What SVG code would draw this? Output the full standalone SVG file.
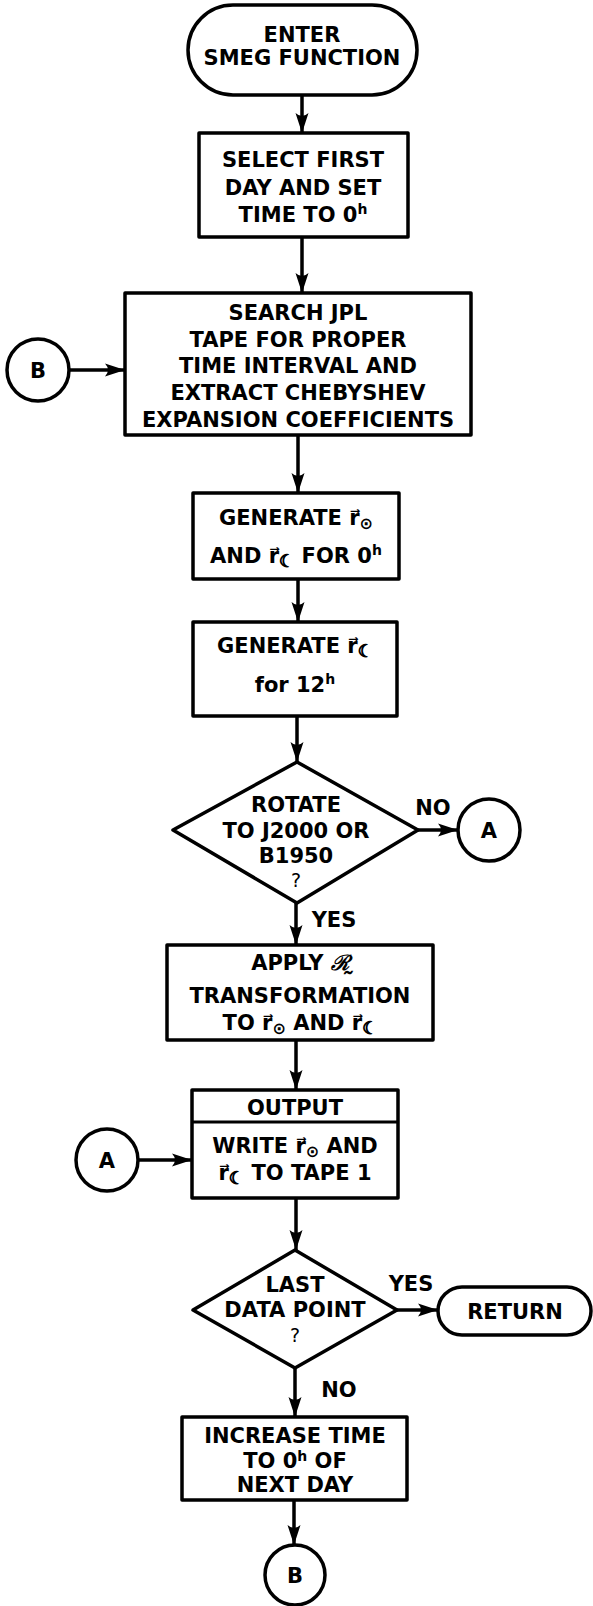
<svg xmlns="http://www.w3.org/2000/svg" width="593" height="1606" viewBox="0 0 593 1606">
<style>
.n{fill:#fff;stroke:#000;stroke-width:3.5;stroke-linejoin:round}
.t{font-family:"DejaVu Sans","Liberation Sans",sans-serif;font-weight:bold;font-size:21px;text-anchor:middle;fill:#000}
.s{font-size:16px;font-weight:bold;fill:#000}
.m{font-size:17px;font-weight:bold;fill:#000;stroke:#000;stroke-width:1}
.p{font-size:14px}
.q{font-weight:normal;font-size:19px}
.c{stroke:#000;stroke-width:3.5;fill:none;marker-end:url(#ah)}
</style>
<defs>
<marker id="ah" markerWidth="20" markerHeight="14" refX="20" refY="7" orient="auto" markerUnits="userSpaceOnUse">
<path d="M0,0.5 L20,7 L0,13.5 Q6,7 0,0.5z" fill="#000"/>
</marker>
</defs>
<rect width="593" height="1606" fill="#fff"/>
<g id="connectors">
<line class="c" x1="302" y1="95" x2="302" y2="133"/>
<line class="c" x1="302" y1="237" x2="302" y2="293"/>
<line class="c" x1="70" y1="370" x2="125" y2="370"/>
<line class="c" x1="298" y1="435" x2="298" y2="493"/>
<line class="c" x1="298" y1="579" x2="298" y2="622"/>
<line class="c" x1="297" y1="716" x2="297" y2="762"/>
<line class="c" x1="418" y1="830" x2="458" y2="830"/>
<line class="c" x1="296" y1="903" x2="296" y2="945"/>
<line class="c" x1="296" y1="1040" x2="296" y2="1090"/>
<line class="c" x1="138" y1="1160" x2="192" y2="1160"/>
<line class="c" x1="296" y1="1198" x2="296" y2="1250"/>
<line class="c" x1="397" y1="1310" x2="438" y2="1310"/>
<line class="c" x1="295" y1="1368" x2="295" y2="1417"/>
<line class="c" x1="294" y1="1500" x2="294" y2="1545"/>
<text class="t" x="433" y="815">NO</text>
<text class="t" x="334" y="927">YES</text>
<text class="t" x="411" y="1291">YES</text>
<text class="t" x="339" y="1397">NO</text>
</g>
<g id="enter">
<rect class="n" x="188" y="5" width="229" height="90" rx="45"/>
<text class="t" x="302" y="42">ENTER</text>
<text class="t" x="302" y="65">SMEG FUNCTION</text>
</g>
<g id="select">
<rect class="n" x="199" y="133" width="209" height="104"/>
<text class="t" x="303" y="167">SELECT FIRST</text>
<text class="t" x="303" y="195">DAY AND SET</text>
<text class="t" x="303" y="222">TIME TO 0<tspan class="p" dy="-8">h</tspan></text>
</g>
<g id="connB1">
<circle class="n" cx="38" cy="370" r="31"/>
<text class="t" x="38" y="378">B</text>
</g>
<g id="search">
<rect class="n" x="125" y="293" width="346" height="142"/>
<text class="t" x="298" y="320">SEARCH JPL</text>
<text class="t" x="298" y="347">TAPE FOR PROPER</text>
<text class="t" x="298" y="373">TIME INTERVAL AND</text>
<text class="t" x="298" y="400">EXTRACT CHEBYSHEV</text>
<text class="t" x="298" y="427">EXPANSION COEFFICIENTS</text>
</g>
<g id="gen1">
<rect class="n" x="193" y="493" width="206" height="86"/>
<text class="t" x="296" y="525">GENERATE r⃗<tspan class="s" dy="4">⊙</tspan></text>
<text class="t" x="296" y="563">AND r⃗<tspan class="m" dy="4">☾</tspan><tspan dy="-4"> FOR 0</tspan><tspan class="p" dy="-8">h</tspan></text>
</g>
<g id="gen2">
<rect class="n" x="193" y="622" width="204" height="94"/>
<text class="t" x="295" y="653">GENERATE r⃗<tspan class="m" dy="4">☾</tspan></text>
<text class="t" x="295" y="692">for 12<tspan class="p" dy="-8">h</tspan></text>
</g>
<g id="rotate">
<polygon class="n" points="297,762 418,830 297,903 173,830"/>
<text class="t" x="296" y="812">ROTATE</text>
<text class="t" x="296" y="838">TO J2000 OR</text>
<text class="t" x="296" y="863">B1950</text>
<text class="t q" x="296" y="887">?</text>
</g>
<g id="connA1">
<circle class="n" cx="489" cy="830" r="31"/>
<text class="t" x="489" y="838">A</text>
</g>
<g id="apply">
<rect class="n" x="167" y="945" width="266" height="95"/>
<text class="t" x="300" y="970">APPLY <tspan style="font-family:'DejaVu Serif',serif;font-style:italic">ℛ̰</tspan></text>
<text class="t" x="300" y="1003">TRANSFORMATION</text>
<text class="t" x="300" y="1030">TO r⃗<tspan class="s" dy="4">⊙</tspan><tspan dy="-4"> AND r⃗</tspan><tspan class="m" dy="4">☾</tspan></text>
</g>
<g id="output">
<rect class="n" x="192" y="1090" width="206" height="108"/>
<line x1="192" y1="1122" x2="398" y2="1122" stroke="#000" stroke-width="3"/>
<text class="t" x="295" y="1115">OUTPUT</text>
<text class="t" x="295" y="1153">WRITE r⃗<tspan class="s" dy="4">⊙</tspan><tspan dy="-4"> AND</tspan></text>
<text class="t" x="295" y="1180">r⃗<tspan class="m" dy="4">☾</tspan><tspan dy="-4"> TO TAPE 1</tspan></text>
</g>
<g id="connA2">
<circle class="n" cx="107" cy="1160" r="31"/>
<text class="t" x="107" y="1168">A</text>
</g>
<g id="last">
<polygon class="n" points="295,1250 397,1310 295,1368 193,1310"/>
<text class="t" x="295" y="1292">LAST</text>
<text class="t" x="295" y="1317">DATA POINT</text>
<text class="t q" x="295" y="1342">?</text>
</g>
<g id="return">
<rect class="n" x="438" y="1287" width="153" height="48" rx="24"/>
<text class="t" x="515" y="1319">RETURN</text>
</g>
<g id="increase">
<rect class="n" x="182" y="1417" width="225" height="83"/>
<text class="t" x="295" y="1443">INCREASE TIME</text>
<text class="t" x="295" y="1468">TO 0<tspan class="p" dy="-7">h</tspan><tspan dy="7"> OF</tspan></text>
<text class="t" x="295" y="1492">NEXT DAY</text>
</g>
<g id="connB2">
<circle class="n" cx="295" cy="1575" r="30"/>
<text class="t" x="295" y="1583">B</text>
</g>
</svg>
